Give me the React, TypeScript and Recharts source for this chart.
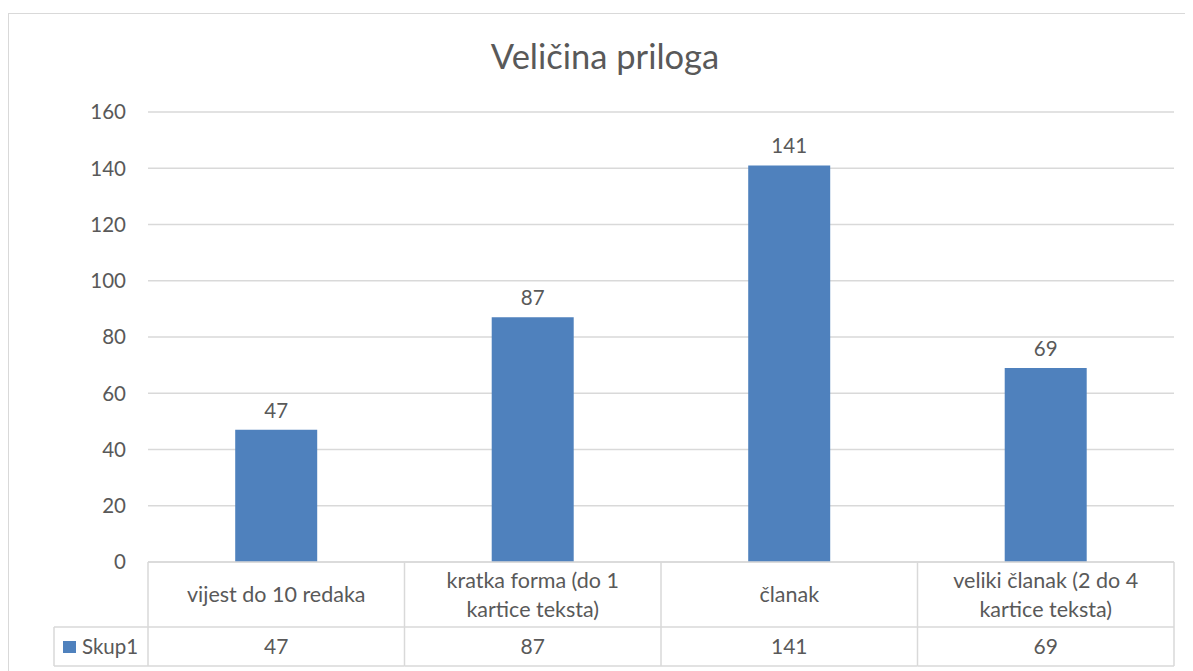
import React from "react";
import { BarChart, Bar, XAxis, YAxis, CartesianGrid, LabelList } from "recharts";

const title = "Veličina priloga";
const seriesName = "Skup1";
const categories = [
  "vijest do 10 redaka",
  "kratka forma (do 1 kartice teksta)",
  "članak",
  "veliki članak (2 do 4 kartice teksta)",
];
const categoryLines = [
  ["vijest do 10 redaka"],
  ["kratka forma (do 1", "kartice teksta)"],
  ["članak"],
  ["veliki članak (2 do 4", "kartice teksta)"],
];
const values = [47, 87, 141, 69];
const yTicks = [0, 20, 40, 60, 80, 100, 120, 140, 160];

const data = categories.map((c, i) => ({ name: c, value: values[i] }));

const FONT = "Lato, 'Open Sans', sans-serif";
const TEXT = "#595959";
const GRID = "#d9d9d9";
const BAR = "#4f81bd";

const CHART_W = 1184;
const CHART_H = 657;
const MARGIN = { top: 98, right: 19, bottom: 5, left: 79 };
const Y_W = 60;
const PLOT_W = CHART_W - MARGIN.left - MARGIN.right - Y_W;
const ROW1_H = 65;
const ROW2_H = 39;
const LEGEND_W = 94;

const TableTick = (props: any) => {
  const { x, y, index } = props;
  const band = PLOT_W / categories.length;
  const left = x - band / 2;
  const right = x + band / 2;
  const lines = categoryLines[index] || [String(props.payload?.value)];
  const lh = 29;
  const cy = y + ROW1_H / 2;
  const startY = cy - ((lines.length - 1) * lh) / 2;
  return (
    <g>
      <line x1={right} y1={y} x2={right} y2={y + ROW1_H + ROW2_H} stroke={GRID} strokeWidth={1.5} />
      {index === 0 && (
        <g>
          <line x1={left} y1={y} x2={left} y2={y + ROW1_H + ROW2_H} stroke={GRID} strokeWidth={1.5} />
          <line x1={left - LEGEND_W} y1={y + ROW1_H} x2={left} y2={y + ROW1_H} stroke={GRID} strokeWidth={1.5} />
          <line x1={left - LEGEND_W} y1={y + ROW1_H + ROW2_H} x2={left} y2={y + ROW1_H + ROW2_H} stroke={GRID} strokeWidth={1.5} />
          <line x1={left - LEGEND_W} y1={y + ROW1_H} x2={left - LEGEND_W} y2={y + ROW1_H + ROW2_H} stroke={GRID} strokeWidth={1.5} />
          <rect x={left - LEGEND_W + 9} y={y + ROW1_H + 14} width={13} height={12} fill={BAR} />
          <text x={left - LEGEND_W + 28} y={y + ROW1_H + ROW2_H / 2} dy="0.35em" fill={TEXT} fontSize={20.5} fontFamily={FONT}>
            {seriesName}
          </text>
        </g>
      )}
      <line x1={left} y1={y + ROW1_H} x2={right} y2={y + ROW1_H} stroke={GRID} strokeWidth={1.5} />
      <line x1={left} y1={y + ROW1_H + ROW2_H} x2={right} y2={y + ROW1_H + ROW2_H} stroke={GRID} strokeWidth={1.5} />
      {lines.map((l: string, i: number) => (
        <text key={i} x={x} y={startY + i * lh} dy="0.35em" textAnchor="middle" fill={TEXT} fontSize={21.5} fontFamily={FONT}>
          {l}
        </text>
      ))}
      <text x={x} y={y + ROW1_H + ROW2_H / 2} dy="0.35em" textAnchor="middle" fill={TEXT} fontSize={21} fontFamily={FONT}>
        {values[index]}
      </text>
    </g>
  );
};

export default function App() {
  return (
    <div style={{ width: 1200, height: 658, marginTop: 5, position: "relative", borderTop: `1px solid ${GRID}`, borderLeft: `1px solid ${GRID}`, boxSizing: "border-box" }}>
      <style>{`body{margin:8px;overflow:hidden;}`}</style>
      <div style={{ position: "absolute", left: 0, top: 21, width: 1192, textAlign: "center", fontFamily: FONT, fontSize: 34.5, color: TEXT, lineHeight: "42px" }}>
        {title}
      </div>
      <div style={{ position: "absolute", left: 0, top: 0 }}>
        <BarChart width={CHART_W} height={CHART_H} data={data} margin={MARGIN} barCategoryGap="34%">
          <CartesianGrid vertical={false} stroke={GRID} strokeWidth={1.5} />
          <XAxis
            dataKey="name"
            height={ROW1_H + ROW2_H}
            tickLine={false}
            tickSize={0}
            tickMargin={0}
            axisLine={{ stroke: GRID, strokeWidth: 1.5 }}
            tick={<TableTick />}
            interval={0}
          />
          <YAxis
            width={Y_W}
            domain={[0, 160]}
            ticks={yTicks}
            axisLine={false}
            tickLine={false}
            tickMargin={16}
            tick={{ fill: TEXT, fontSize: 20.5, fontFamily: FONT }}
          />
          <Bar dataKey="value" fill={BAR} isAnimationActive={false}>
            <LabelList dataKey="value" position="top" offset={12} fill={TEXT} fontSize={20.5} fontFamily={FONT} />
          </Bar>
        </BarChart>
      </div>
    </div>
  );
}
